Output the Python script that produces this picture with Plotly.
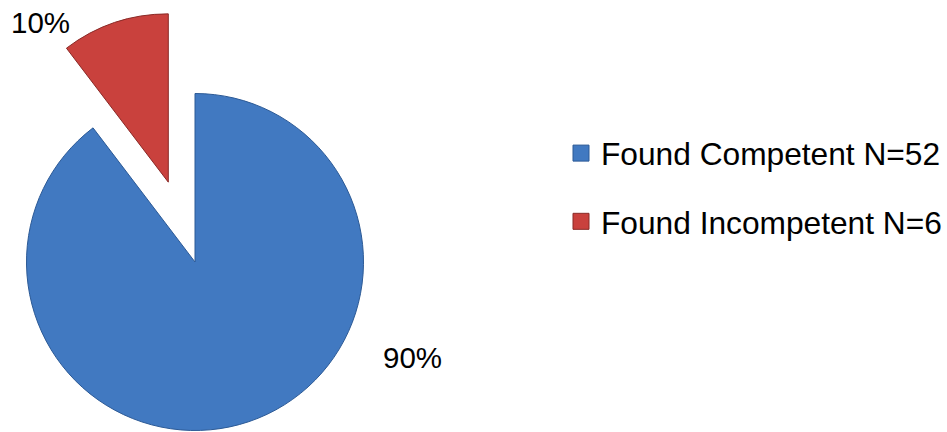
import math
import plotly.graph_objects as go

# Case outcomes
labels = ["Found Competent N=52", "Found Incompetent N=6"]
counts = [52, 6]
pct_text = ["90%", "10%"]
colors = ["#4179C1", "#C9413D"]
edge_colors = ["#2C5A96", "#8A2A27"]
pull_frac = 0.5  # how far the smaller slice is pulled out, as a fraction of the radius

W, H = 947, 432
cx, cy, r = 195.0, 262.0, 168.5   # pie centre / radius in pixels

total = sum(counts)
# mid-angle of the pulled slice (clockwise from 12 o'clock)
start = 360.0 * counts[0] / total
mid = math.radians(start + 180.0 * counts[1] / total)
px = cx + pull_frac * r * math.sin(mid)
py = cy - pull_frac * r * math.cos(mid)


def dom(x0, y0, rad):
    return dict(
        x=[max(0.0, (x0 - rad) / W), min(1.0, (x0 + rad) / W)],
        y=[max(0.0, 1 - (y0 + rad) / H), min(1.0, 1 - (y0 - rad) / H)],
    )


clear = "rgba(0,0,0,0)"
fig = go.Figure()
for k, (x0, y0) in enumerate([(cx, cy), (px, py)]):
    fill = [colors[i] if i == k else clear for i in range(len(counts))]
    line = [edge_colors[i] if i == k else clear for i in range(len(counts))]
    fig.add_trace(go.Pie(
        labels=labels, values=counts, sort=False, direction="clockwise",
        rotation=0, textinfo="none", hoverinfo="label+percent",
        marker=dict(colors=fill, line=dict(color=line, width=1)),
        domain=dom(x0, y0, r), showlegend=False,
    ))

# legend entries
for i, (lab, col, ec) in enumerate(zip(labels, colors, edge_colors)):
    fig.add_trace(go.Scatter(
        x=[None], y=[None], mode="markers", name=lab, legendgroup=f"g{i}",
        marker=dict(symbol="square", size=17, color=col, line=dict(color=ec, width=1)),
    ))

# percentage labels, placed just outside the slices
font = dict(family="Liberation Sans, Arial, sans-serif", size=29.5, color="#000000")
fig.add_annotation(x=412 / W, y=1 - 357 / H, xref="paper", yref="paper",
                   xanchor="center", yanchor="middle",
                   text=pct_text[0], showarrow=False, font=font)
fig.add_annotation(x=40 / W, y=1 - 23 / H, xref="paper", yref="paper",
                   xanchor="center", yanchor="middle",
                   text=pct_text[1], showarrow=False, font=font)

fig.update_layout(
    width=W, height=H, margin=dict(l=0, r=0, t=0, b=0),
    paper_bgcolor="white", plot_bgcolor="white",
    xaxis=dict(visible=False), yaxis=dict(visible=False),
    legend=dict(x=561 / W, y=1 - 126 / H, xanchor="left", yanchor="top",
                font=dict(family="Liberation Sans, Arial, sans-serif", size=31.7, color="#000000"),
                bgcolor="rgba(0,0,0,0)", tracegroupgap=24, itemclick=False),
)
fig.write_html("out.html")
